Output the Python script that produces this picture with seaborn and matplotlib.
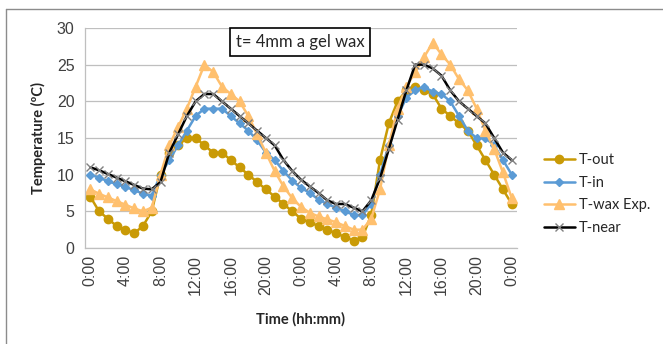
""" Temperature profiles, t = 4 mm a gel wax """

import pandas as pd
import numpy as np
import matplotlib
matplotlib.use('Agg')
import matplotlib.pyplot as plt
import seaborn as sns
from matplotlib.lines import Line2D

# hourly readings over two days
hours = list(range(49))
t_out = [7, 5, 4, 3, 2.5, 2, 3, 5, 10, 13, 14, 15, 15, 14, 13, 13, 12, 11, 10, 9, 8, 7, 6, 5, 4,
         3.5, 3, 2.5, 2, 1.5, 1, 1.5, 4.5, 12, 17, 20, 21.5, 22, 21.5, 21, 19, 18, 17, 16, 14, 12, 10, 8, 6]
t_in = [10, 9.6, 9.1, 8.7, 8.3, 7.9, 7.4, 7.1, 10, 12, 14, 16, 18, 19, 19, 19, 18, 17, 16, 14.7, 13, 12, 10.5, 9.2, 8.2,
        7.5, 6.6, 6, 5.5, 5, 4.5, 4.5, 6, 10, 14, 18, 20.5, 21.5, 22, 21.3, 21, 20, 18, 16, 15, 15, 14, 12, 10]
t_wax = [8, 7.4, 6.9, 6.4, 5.9, 5.4, 5, 5.5, 10, 14, 16.5, 19, 22, 25, 24, 22, 21, 20, 18, 15.5, 13, 10.5, 8.4, 6.8, 5.6,
         4.8, 4.3, 3.9, 3.5, 3, 2.5, 2.5, 4, 8, 14, 19, 22, 24, 26, 28, 26.4, 25, 23, 21.5, 19, 16, 13.5, 10.3, 6.8]
t_near = [11, 10.6, 10.1, 9.6, 9.1, 8.6, 8.1, 8, 9, 13, 15.5, 18, 20, 21, 21, 20, 19, 18, 17, 16, 15, 14, 12, 10.5, 9.3,
          8.4, 7.5, 6.5, 6, 6, 5.5, 5, 6.5, 9.5, 13.5, 17.5, 21.5, 25, 25, 24.5, 23.5, 21.5, 20, 19, 18, 17, 15, 13, 12]

tick_hours = list(range(0, 49, 4))
tick_labels = ['0:00', '4:00', '8:00', '12:00', '16:00', '20:00'] * 2 + ['0:00']

df = pd.DataFrame({'hour': hours, 'T-out': t_out, 'T-in': t_in,
                   'T-wax Exp.': t_wax, 'T-near': t_near})

sns.set_style('white')
plt.rcParams['font.family'] = ['Liberation Sans', 'DejaVu Sans']

fig = plt.figure(figsize=(6.63, 3.44), dpi=100)
ax = fig.add_axes([85 / 663, 1 - 248 / 344, 432 / 663, 220 / 344])

# series styles: (column, colour, marker, marker edge, marker size)
styles = [
    ('T-out', '#C99A06', 'o', '#C99A06', 6),
    ('T-in', '#5B9BD5', 'D', '#5B9BD5', 4.5),
    ('T-wax Exp.', '#FFC06E', '^', '#FFC06E', 7),
    ('T-near', '#000000', 'x', '#808080', 6),
]
for col, c, m, mec, ms in styles:
    sns.lineplot(data=df, x='hour', y=col, ax=ax, color=c, marker=m,
                 markeredgecolor=mec, markerfacecolor=mec, markersize=ms,
                 markeredgewidth=1.0, linewidth=1.8, label=col)

ax.set_xlim(-0.6, 48.6)
ax.set_ylim(0, 30)
ax.set_yticks(range(0, 31, 5))
ax.set_xticks(tick_hours)
ax.set_xticklabels(tick_labels, rotation=90)
ax.set_xticks(np.arange(-0.5, 49, 1), minor=True)
ax.tick_params(axis='both', labelsize=11.5, colors='#BFBFBF', labelcolor='#404040',
               length=4, width=0.8, direction='out')
ax.tick_params(axis='x', which='minor', length=4, width=0.8, colors='#BFBFBF')
ax.tick_params(axis='x', which='major', length=0, pad=5)
ax.grid(axis='y', color='#BFBFBF', linewidth=0.9)
ax.set_axisbelow(True)
for side in ['top', 'right']:
    ax.spines[side].set_visible(False)
for side in ['left', 'bottom']:
    ax.spines[side].set_color('#BFBFBF')
    ax.spines[side].set_linewidth(0.9)

ax.set_xlabel('Time (hh:mm)', fontsize=10.5, fontweight='bold', family='Lato', labelpad=12)
ax.set_ylabel('Temperature (ºC)', fontsize=10.5, fontweight='bold', family='Lato', labelpad=8)

ax.legend(loc='center left', bbox_to_anchor=(531 / 663, 1 - 194 / 344),
          bbox_transform=fig.transFigure, frameon=False,
          prop={'family': 'Lato', 'size': 10.5}, handlelength=2.1,
          handletextpad=0.3, labelspacing=0.58)

fig.text(300 / 663, 1 - 42 / 344, 't= 4mm a gel wax', ha='center', va='center',
         family='Lato', fontsize=12,
         bbox=dict(boxstyle='square,pad=0.35', facecolor='white', edgecolor='black', linewidth=1.2))

# chart border (only top and left visible in crop)
fig.add_artist(Line2D([6 / 663, 6 / 663], [0, 1 - 9 / 344], color='#8C8C8C', linewidth=1, transform=fig.transFigure))
fig.add_artist(Line2D([6 / 663, 1], [1 - 9 / 344, 1 - 9 / 344], color='#8C8C8C', linewidth=1, transform=fig.transFigure))

fig.savefig('out.png', dpi=100)
